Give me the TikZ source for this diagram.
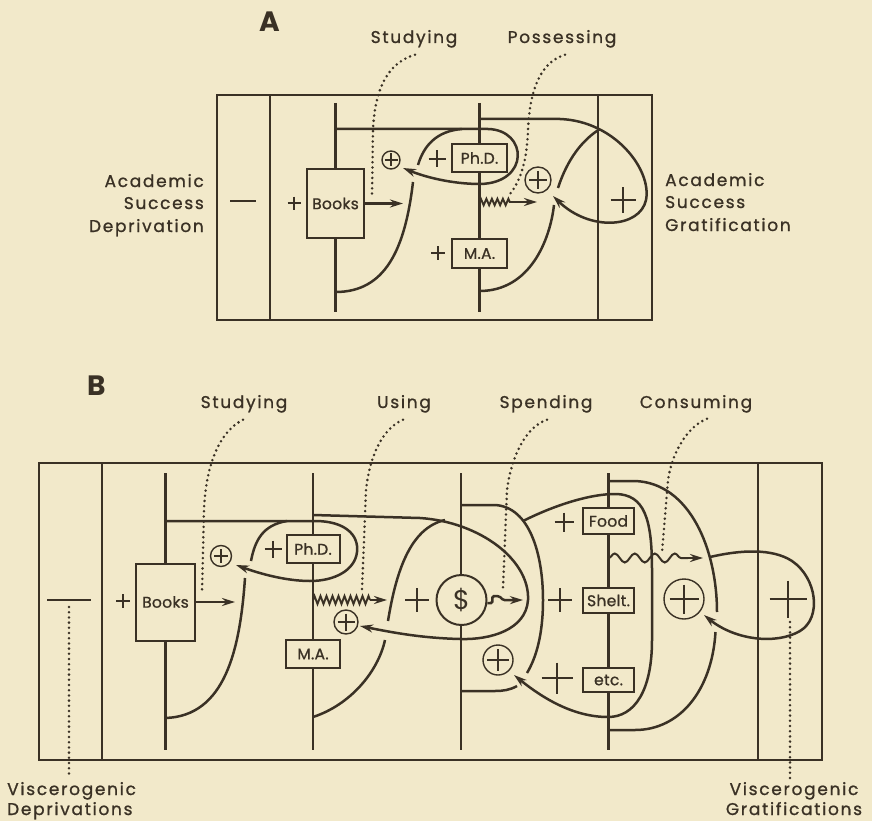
\documentclass[tikz,border=0pt]{standalone}
\usepackage{fontspec}
\setmainfont{Poppins}
\newfontfamily\labelfont{Poppins}[LetterSpace=10,FakeBold=1]
\newfontfamily\boxfont{Poppins}[LetterSpace=2,FakeBold=1]
\usetikzlibrary{arrows.meta,decorations.pathmorphing}
\definecolor{paper}{HTML}{F2E9CA}
\definecolor{ink}{HTML}{3A3125}

\begin{document}
\begin{tikzpicture}[x=1pt,y=-1pt,
  frame/.style={draw=ink,line width=2.4pt},
  wire/.style={draw=ink,line width=2.5pt},
  flow/.style={wire,-{Stealth[length=13pt,width=8pt]}},
  leader/.style={draw=ink,line width=2.8pt,line cap=round,dash pattern=on 0pt off 5.2pt},
  item/.style={draw=ink,fill=paper,line width=2pt,inner sep=0pt,text=ink,
    font=\boxfont\fontsize{15.5}{17}\selectfont},
  ring/.style={circle,draw=ink,fill=paper,line width=1.4pt,inner sep=0pt},
  caption/.style={text=ink,inner sep=0pt,font=\labelfont\fontsize{17}{20}\selectfont},
  headline/.style={text=ink,inner sep=0pt,font=\fontsize{28}{30}\selectfont\bfseries},
  pics/cross/.style={code={\draw[draw=ink,line width=2.4pt] (-#1,0) -- (#1,0) (0,-#1) -- (0,#1);}},
  pics/thincross/.style={code={\draw[draw=ink,line width=1.7pt] (-#1,0) -- (#1,0) (0,-#1) -- (0,#1);}},
]
\fill[paper] (0,0) rectangle (872,821);
\useasboundingbox (0,0) rectangle (872,821);

% ================= Panel A =================
\node[headline,anchor=base west] (tagA) at (259,32) {A};
\node[caption,anchor=base] (studyingA) at (414,43) {Studying};
\node[caption,anchor=base] (possessingA) at (562,43) {Possessing};
\node[caption,anchor=base east] (depA1) at (204,187) {Academic};
\node[caption,anchor=base east] (depA2) at (204,209) {Success};
\node[caption,anchor=base east] (depA3) at (204,232) {Deprivation};
\node[caption,anchor=base west] (gratA1) at (665,186) {Academic};
\node[caption,anchor=base west] (gratA2) at (665,208) {Success};
\node[caption,anchor=base west] (gratA3) at (665,231) {Gratification};

\draw[frame] (217,95) rectangle (652,320);
\draw[frame] (270,95) -- (270,320);
\draw[frame] (598,95) -- (598,320);
\draw[wire] (335.5,103) -- (335.5,312);
\draw[wire] (479.5,103) -- (479.5,312);

\draw[wire] (230,201) -- (256,201);
\pic at (294,203) {cross=6.5};
\pic at (437,159) {cross=8.5};
\pic at (438,253) {cross=7};
\pic at (623,200) {cross=12.5};

% loop from the Books stem round Ph.D. back to the sum
\draw[flow] (335.5,129) -- (488,129) .. controls (528,130) and (530,183) .. (480,184)
  .. controls (452,184) and (425,177) .. (403,168);
% S-curve from the foot of the Books stem, broken where the arrow crosses
\draw[wire] (335.5,292) .. controls (385,292) and (405,250) .. (413,182);
\draw[wire] (418,165) .. controls (424,145) and (437,131) .. (462,129);
% big loop from the degree stem round the gratification column
\draw[flow] (479.5,119) -- (560,119) .. controls (615,121) and (652,170) .. (646,200)
  .. controls (640,228) and (590,232) .. (553,196);
\draw[wire] (479.5,291) .. controls (530,291) and (550,240) .. (554,205);
\draw[wire] (558,188) .. controls (567,160) and (582,140) .. (600,129);

\node[item,minimum width=57,minimum height=68] (booksA) at (335.5,203.5) {Books};
\node[item,minimum width=55,minimum height=28] (phdA) at (479.5,158) {Ph.D.};
\node[item,minimum width=55,minimum height=29] (maA) at (479.5,253.5) {M.A.};
\node[ring,minimum size=18] (sumA1) at (391,160) {};
\pic at (sumA1) {thincross=6.5};
\node[ring,minimum size=26] (sumA2) at (538,180) {};
\pic at (sumA2) {thincross=9};

\coordinate (studyA) at (403,203.5);
\draw[flow] (booksA.east) -- (studyA);
\draw[wire,line width=1.9pt,decorate,decoration={zigzag,segment length=5.5pt,amplitude=3.2pt}]
  (479.5,202) -- (511,202);
\draw[flow] (511,202) -- (537,202);

\draw[leader] (studyingA.south) ++(1,7) .. controls (390,62) and (375,85) .. (373,130) -- (372,198);
\draw[leader] (possessingA.south) ++(3,7) .. controls (541,62) and (530,88) .. (528,130)
  .. controls (527,160) and (521,180) .. (510,194);

% ================= Panel B =================
\node[headline,anchor=base west] (tagB) at (87,395) {B};
\node[caption,anchor=base] (studyingB) at (244,408) {Studying};
\node[caption,anchor=base] (usingB) at (404,408) {Using};
\node[caption,anchor=base] (spendingB) at (546,408) {Spending};
\node[caption,anchor=base] (consumingB) at (696,408) {Consuming};
\node[caption,anchor=base west] (visL1) at (7,795) {Viscerogenic};
\node[caption,anchor=base west] (visL2) at (7,815) {Deprivations};
\node[caption,anchor=base] (visR1) at (794,795) {Viscerogenic};
\node[caption,anchor=base] (visR2) at (794,815) {Gratifications};

\draw[frame] (39,463) rectangle (822,760);
\draw[frame] (102,463) -- (102,760);
\draw[frame] (758,463) -- (758,760);
\foreach \sx in {165.5,313,461,608.5} \draw[wire] (\sx,473) -- (\sx,750);

\draw[wire] (47,600) -- (91,600);
\pic at (123,601) {cross=7};
\pic at (273,549) {cross=8.5};
\pic at (417,600) {cross=12};
\pic at (564,522) {cross=9.5};
\pic at (560,600) {cross=12};
\pic at (557,678) {cross=15.5};
\pic at (788,599) {cross=18.5};

% Books stem: loop round Ph.D. back to the first sum
\draw[flow] (165.5,521) -- (315,521) .. controls (345,521) and (359,535) .. (357,552)
  .. controls (355,570) and (335,581) .. (310,581) .. controls (285,581) and (258,573) .. (236,565);
\draw[wire] (165.5,718) .. controls (225,716) and (240,650) .. (245,578);
\draw[wire] (251,561) .. controls (255,540) and (263,525) .. (287,521);

% degree stem: loop round the money column
\draw[flow] (313,515) -- (420,518) .. controls (480,522) and (530,560) .. (528,600)
  .. controls (526,630) and (490,640) .. (460,639) .. controls (420,638) and (390,632) .. (360,626);
\draw[wire] (313,717) .. controls (350,705) and (378,672) .. (385,640);
\draw[wire] (388,621) .. controls (396,572) and (410,528) .. (445,520);

% money stem: closed bow
\draw[wire] (461,505) -- (495,505) .. controls (530,507) and (543,555) .. (543,600)
  .. controls (543,635) and (536,658) .. (527,673);
\draw[wire] (517,686) .. controls (510,690) and (503,691) .. (495,691) -- (461,691);

% loop round the goods column back to the money sum
\draw[flow] (523,521) .. controls (555,505) and (590,494) .. (615,494)
  .. controls (645,494) and (652,520) .. (652,570) -- (652,640)
  .. controls (652,690) and (635,717) .. (608,717) .. controls (575,717) and (545,700) .. (514,675);

% goods stem: closed bow
\draw[wire] (608.5,481) -- (635,481) .. controls (690,483) and (717,550) .. (717,612);
\draw[wire] (715.5,632) .. controls (712,690) and (680,730) .. (635,730) -- (608.5,730);

% loop round the gratification column
\draw[flow] (710,557) .. controls (740,550) and (772,548) .. (792,561)
  .. controls (817,578) and (822,618) .. (800,631) .. controls (776,645) and (735,640) .. (704,615);

\node[item,minimum width=59,minimum height=77] (booksB) at (165.5,602) {Books};
\node[item,minimum width=53,minimum height=28] (phdB) at (313,549) {Ph.D.};
\node[item,minimum width=54,minimum height=28] (maB) at (313,654) {M.A.};
\node[item,minimum width=51,minimum height=26] (food) at (608.5,521) {Food};
\node[item,minimum width=51,minimum height=25] (shelt) at (608.5,600.5) {Shelt.};
\node[item,minimum width=51,minimum height=24] (etc) at (608.5,680) {etc.};
\node[circle,draw=ink,fill=paper,line width=2pt,minimum size=50,inner sep=0pt,text=ink,
  font=\fontsize{27}{28}\selectfont] (dollar) at (461.5,600) {\$};

\node[ring,minimum size=21] (sumB1) at (221,556) {};
\pic at (sumB1) {thincross=7};
\node[ring,minimum size=24] (sumB2) at (346,622) {};
\pic at (sumB2) {thincross=8.5};
\node[ring,minimum size=30] (sumB3) at (498,660) {};
\pic at (sumB3) {thincross=11};
\node[ring,minimum size=40] (sumB4) at (684,599) {};
\pic at (sumB4) {thincross=14.5};

\coordinate (studyB) at (235,602);
\draw[flow] (booksB.east) -- (studyB);
\draw[wire,line width=1.9pt,decorate,decoration={zigzag,segment length=6pt,amplitude=4pt}]
  (313,600) -- (370,600);
\draw[flow] (370,600) -- (387,600);
\draw[flow,rounded corners=1.5pt] (dollar.-7) -- ++(5,0) -- ++(0,-7) -- ++(7,0) -- ++(4,4) -- (523,600);
\draw[wire,line width=2pt,decorate,decoration={snake,segment length=20pt,amplitude=4.5pt}]
  (608.5,558) -- (688,558);
\draw[flow] (688,558) -- (703,558);

\draw[leader] (studyingB.south) ++(-1,7) .. controls (222,430) and (206,460) .. (204,510) -- (202,593);
\draw[leader] (usingB.south) ++(-1,7) .. controls (385,427) and (370,452) .. (366,490) -- (362,590);
\draw[leader] (spendingB.south) ++(1,7) .. controls (528,426) and (512,452) .. (507,490) -- (503,588);
\draw[leader] (consumingB.south) ++(11,6) .. controls (688,426) and (672,452) .. (668,480) -- (662,552);
\draw[leader] (69,607) -- (69,778);
\draw[leader] (790,622) -- (790,778);
\end{tikzpicture}
\end{document}
